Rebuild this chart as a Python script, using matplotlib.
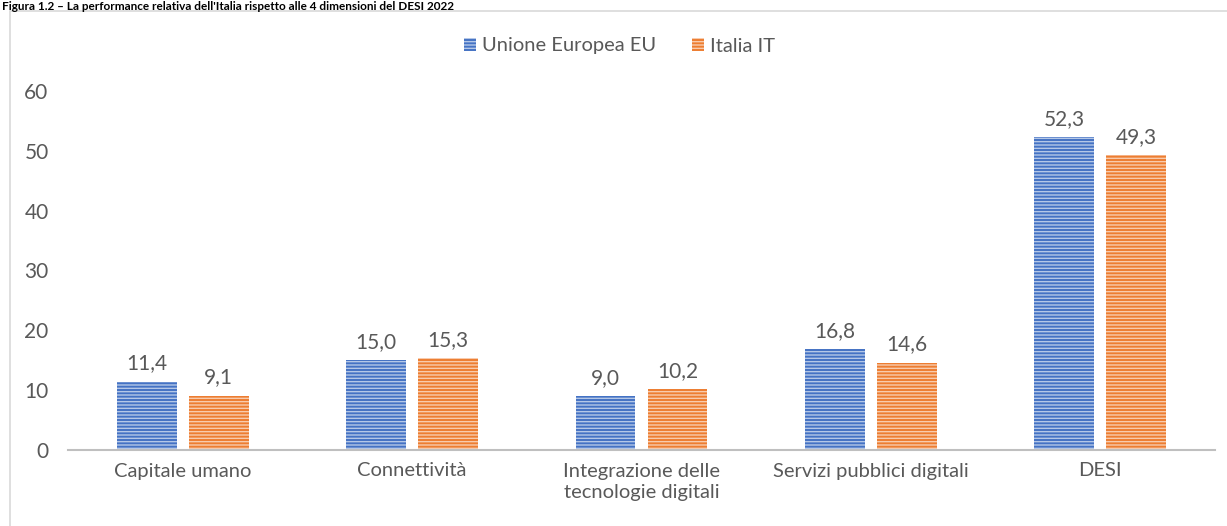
import numpy as np
import matplotlib.pyplot as plt
from matplotlib.patches import Rectangle

plt.rcParams['font.family'] = ['Lato', 'DejaVu Sans']
plt.rcParams['hatch.linewidth'] = 1.0

# Data
categories = ["Capitale umano", "Connettività", "Integrazione delle\ntecnologie digitali",
              "Servizi pubblici digitali", "DESI"]
eu_values = [11.4, 15.0, 9.0, 16.8, 52.3]
it_values = [9.1, 15.3, 10.2, 14.6, 49.3]
series_names = ["Unione Europea EU", "Italia IT"]

blue = '#4472C4'
orange = '#ED7D31'
text_col = '#595959'

fig = plt.figure(figsize=(12.27, 5.26), dpi=100)

# outer chart border (cropped on the right and bottom in the source)
fig.patches.append(Rectangle((10/1227, -0.05), 1.0, 1 - 11/526 + 0.05, transform=fig.transFigure,
                             fill=False, edgecolor='#d9d9d9', linewidth=1.2))

fig.text(0.002, 0.999, "Figura 1.2 – La performance relativa dell'Italia rispetto alle 4 dimensioni del DESI 2022",
         fontsize=8.5, fontweight='bold', color='black', ha='left', va='top')

ax = fig.add_axes([68/1227, 1 - 450/526, (1215 - 68)/1227, (450 - 91)/526])

x = np.arange(len(categories))
w = 0.26
off = 0.157
b1 = ax.bar(x - off, eu_values, w, color=blue, edgecolor='#b4c7e7', linewidth=0,
            hatch='-----', label=series_names[0])
b2 = ax.bar(x + off, it_values, w, color=orange, edgecolor='#f8cbad', linewidth=0,
            hatch='-----', label=series_names[1])

for bars, vals in [(b1, eu_values), (b2, it_values)]:
    for rect, v in zip(bars, vals):
        ax.annotate(f"{v:.1f}".replace('.', ','), (rect.get_x() + rect.get_width()/2, v),
                    xytext=(0, 6), textcoords='offset points', ha='center', va='bottom',
                    fontsize=15, color=text_col)

ax.set_xlim(-0.5, len(categories) - 0.5)
ax.set_ylim(0, 60)
ax.set_yticks(range(0, 61, 10))
ax.set_xticks(x)
ax.set_xticklabels(categories, linespacing=1.3)
ax.tick_params(axis='both', length=0, labelsize=14.5, colors=text_col)
ax.tick_params(axis='y', pad=14, labelsize=15)
ax.tick_params(axis='x', pad=9)
for s in ['top', 'right', 'left']:
    ax.spines[s].set_visible(False)
ax.spines['bottom'].set_color('#bfbfbf')
ax.spines['bottom'].set_linewidth(1.5)

leg = fig.legend(loc='center', bbox_to_anchor=(0.505, 1 - 46/526), ncol=2, frameon=False,
                 fontsize=14.5, handlelength=0.6, handleheight=0.6, columnspacing=1.8,
                 handletextpad=0.3)
for t in leg.get_texts():
    t.set_color(text_col)

fig.savefig('out.png', dpi=100)
